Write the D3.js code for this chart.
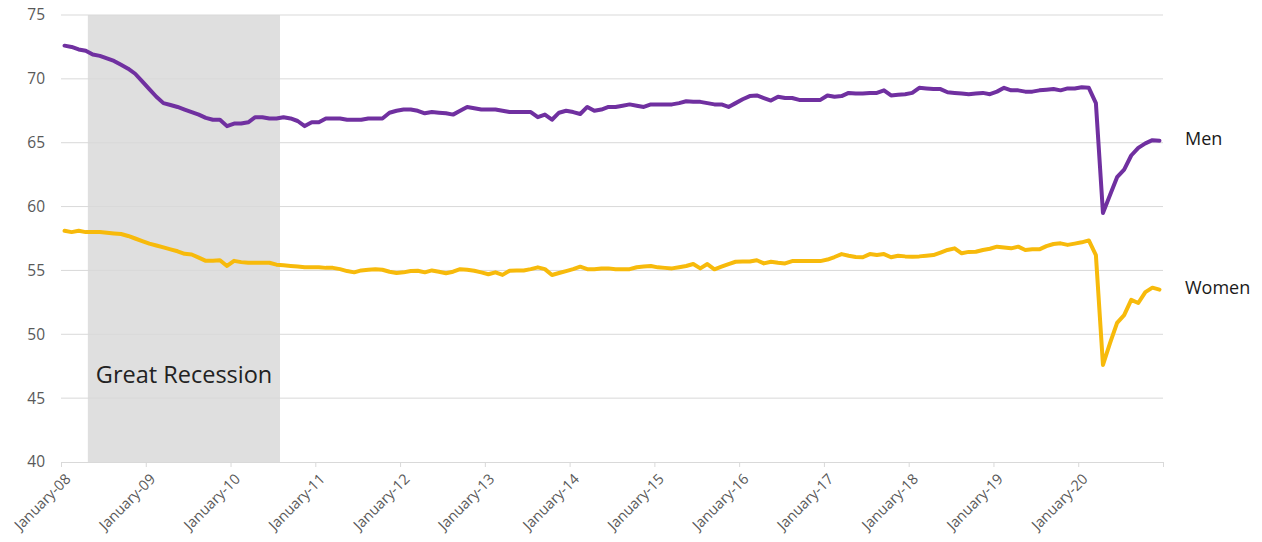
<!DOCTYPE html>
<html>
<head>
<meta charset="utf-8">
<script src="https://cdn.jsdelivr.net/npm/d3@7"></script>
<style>
  html, body { margin: 0; padding: 0; background: #ffffff; }
  svg { display: block; font-family: "Open Sans", "Liberation Sans", sans-serif; }
</style>
</head>
<body>
<svg id="chart" width="1262" height="542"></svg>
<script>
// Employment-population ratio by sex, monthly, January 2008 – December 2020
const startYear = 2008;
const yearLabels = ["January-08", "January-09", "January-10", "January-11", "January-12",
  "January-13", "January-14", "January-15", "January-16", "January-17", "January-18",
  "January-19", "January-20"];
const yTicks = [40, 45, 50, 55, 60, 65, 70, 75];

const men = [
  72.6, 72.5, 72.3, 72.2, 71.9, 71.8, 71.6, 71.4, 71.1, 70.8, 70.4, 69.8,   // 2008
  69.2, 68.6, 68.1, 67.95, 67.8, 67.6, 67.4, 67.2, 66.95, 66.8, 66.8, 66.3, // 2009
  66.5, 66.5, 66.6, 67.0, 67.0, 66.9, 66.9, 67.0, 66.9, 66.7, 66.3, 66.6,   // 2010
  66.6, 66.9, 66.9, 66.9, 66.8, 66.8, 66.8, 66.9, 66.9, 66.9, 67.35, 67.5,  // 2011
  67.6, 67.6, 67.5, 67.3, 67.4, 67.35, 67.3, 67.2, 67.5, 67.8, 67.7, 67.6,  // 2012
  67.6, 67.6, 67.5, 67.4, 67.4, 67.4, 67.4, 67.0, 67.2, 66.8, 67.35, 67.5,  // 2013
  67.4, 67.25, 67.8, 67.5, 67.6, 67.8, 67.8, 67.9, 68.0, 67.9, 67.8, 68.0,  // 2014
  68.0, 68.0, 68.0, 68.1, 68.25, 68.2, 68.2, 68.1, 68.0, 68.0, 67.8, 68.1,  // 2015
  68.4, 68.65, 68.7, 68.5, 68.3, 68.6, 68.5, 68.5, 68.35, 68.35, 68.35, 68.35, // 2016
  68.7, 68.6, 68.65, 68.9, 68.85, 68.85, 68.9, 68.9, 69.1, 68.7, 68.75, 68.8,  // 2017
  68.9, 69.3, 69.25, 69.2, 69.2, 68.95, 68.9, 68.85, 68.8, 68.85, 68.9, 68.8,  // 2018
  69.0, 69.3, 69.1, 69.1, 69.0, 69.0, 69.1, 69.15, 69.2, 69.1, 69.25, 69.25,  // 2019
  69.35, 69.3, 68.1, 59.5, 60.9, 62.3, 62.9, 64.0, 64.6, 64.95, 65.2, 65.15   // 2020
];

const women = [
  58.1, 58.0, 58.1, 58.0, 58.0, 58.0, 57.95, 57.9, 57.85, 57.7, 57.5, 57.3,  // 2008
  57.1, 56.95, 56.8, 56.65, 56.5, 56.3, 56.25, 56.0, 55.75, 55.75, 55.8, 55.35, // 2009
  55.75, 55.65, 55.6, 55.6, 55.6, 55.6, 55.45, 55.4, 55.35, 55.3, 55.25, 55.25, // 2010
  55.25, 55.2, 55.2, 55.1, 54.95, 54.85, 55.0, 55.05, 55.1, 55.05, 54.9, 54.8,  // 2011
  54.85, 54.95, 54.98, 54.85, 55.0, 54.9, 54.78, 54.9, 55.1, 55.05, 54.98, 54.85, // 2012
  54.7, 54.85, 54.65, 54.98, 55.0, 55.0, 55.1, 55.24, 55.1, 54.64, 54.8, 54.95,  // 2013
  55.1, 55.29, 55.1, 55.1, 55.15, 55.16, 55.1, 55.1, 55.1, 55.25, 55.3, 55.34,   // 2014
  55.24, 55.2, 55.16, 55.25, 55.35, 55.5, 55.16, 55.5, 55.09, 55.3, 55.5, 55.68, // 2015
  55.7, 55.7, 55.8, 55.55, 55.68, 55.6, 55.55, 55.73, 55.73, 55.73, 55.73, 55.73, // 2016
  55.85, 56.05, 56.28, 56.15, 56.05, 56.03, 56.28, 56.2, 56.28, 56.03, 56.15, 56.1, // 2017
  56.07, 56.1, 56.15, 56.2, 56.4, 56.6, 56.73, 56.34, 56.45, 56.46, 56.6, 56.7,  // 2018
  56.86, 56.8, 56.73, 56.86, 56.6, 56.65, 56.65, 56.9, 57.07, 57.12, 57.0, 57.1, // 2019
  57.2, 57.35, 56.2, 47.6, 49.3, 50.9, 51.5, 52.7, 52.45, 53.3, 53.65, 53.5      // 2020
];

// Shaded recession period (dates)
const recession = { label: "Great Recession", from: "2008-04-25", to: "2010-08-01" };

const seriesNames = ["Men", "Women"];
const seriesColors = ["#7030A0", "#F7BA0B"];

// ---- layout ----
const svg = d3.select("#chart");
const margin = { left: 61, right: 99, top: 15, bottom: 80 };
const W = 1262, H = 542;
const nMonths = men.length;

// Month-index scale: each month occupies one slot, points sit mid-slot
const x = d3.scaleLinear().domain([0, nMonths]).range([margin.left, W - margin.right]);
const y = d3.scaleLinear().domain([40, 75]).range([H - margin.bottom, margin.top]);

// Converts a date string to a fractional month offset from January of startYear
function monthOffset(s) {
  const d = new Date(s + "T00:00:00Z");
  const yr = d.getUTCFullYear(), mo = d.getUTCMonth(), day = d.getUTCDate();
  const dim = new Date(Date.UTC(yr, mo + 1, 0)).getUTCDate();
  return (yr - startYear) * 12 + mo + (day - 1) / dim;
}

// recession band
const rx0 = x(monthOffset(recession.from)), rx1 = x(monthOffset(recession.to));
svg.append("rect")
  .attr("x", rx0).attr("y", y(75))
  .attr("width", rx1 - rx0).attr("height", y(40) - y(75))
  .attr("fill", "#dfdfdf");

// horizontal gridlines
svg.append("g")
  .selectAll("line")
  .data(yTicks.filter(t => t !== 40))
  .join("line")
  .attr("x1", x(0)).attr("x2", x(nMonths))
  .attr("y1", d => y(d)).attr("y2", d => y(d))
  .attr("stroke", "#d9d9d9").attr("stroke-width", 1);

// y axis labels
const yAxis = d3.axisLeft(y).tickValues(yTicks).tickSize(0).tickPadding(16);
svg.append("g")
  .attr("transform", `translate(${x(0)},0)`)
  .call(yAxis)
  .call(g => g.select(".domain").remove())
  .call(g => g.selectAll("text")
    .attr("fill", "#595959")
    .style("font-size", "15.5px")
    .style("font-family", "'Open Sans', sans-serif"));

// x axis: tick at every January, labelled for 2008–2020
const xTickVals = d3.range(0, nMonths + 1, 12);
const xAxis = d3.axisBottom(x)
  .tickValues(xTickVals)
  .tickSize(5)
  .tickFormat((d, i) => yearLabels[i] || "");
const gx = svg.append("g")
  .attr("transform", `translate(0,${y(40)})`)
  .call(xAxis);
gx.select(".domain").attr("stroke", "#d9d9d9");
gx.selectAll(".tick line").attr("stroke", "#d9d9d9");
gx.selectAll(".tick text")
  .attr("fill", "#595959")
  .style("font-size", "14.5px")
  .style("font-family", "'Open Sans', sans-serif")
  .attr("text-anchor", "end")
  .attr("y", 0).attr("dy", 0)
  .attr("transform", "translate(10,18) rotate(-45)");

// lines
const line = d3.line()
  .x((d, i) => x(i + 0.5))
  .y(d => y(d))
  .curve(d3.curveLinear);

[men, women].forEach((vals, k) => {
  svg.append("path")
    .datum(vals)
    .attr("fill", "none")
    .attr("stroke", seriesColors[k])
    .attr("stroke-width", 4)
    .attr("stroke-linejoin", "round")
    .attr("stroke-linecap", "round")
    .attr("d", line);
});

// series labels at right
[men, women].forEach((vals, k) => {
  const last = vals[vals.length - 1];
  svg.append("text")
    .attr("x", x(nMonths) + 22)
    .attr("y", y(last) - 2)
    .attr("dy", "0.35em")
    .attr("fill", "#1a1a1a")
    .style("font-size", "18px")
    .text(seriesNames[k]);
});

// recession label
svg.append("text")
  .attr("x", rx0 + 8)
  .attr("y", y(46.2))
  .attr("fill", "#222222")
  .style("font-size", "23.5px")
  .text(recession.label);
</script>
</body>
</html>
